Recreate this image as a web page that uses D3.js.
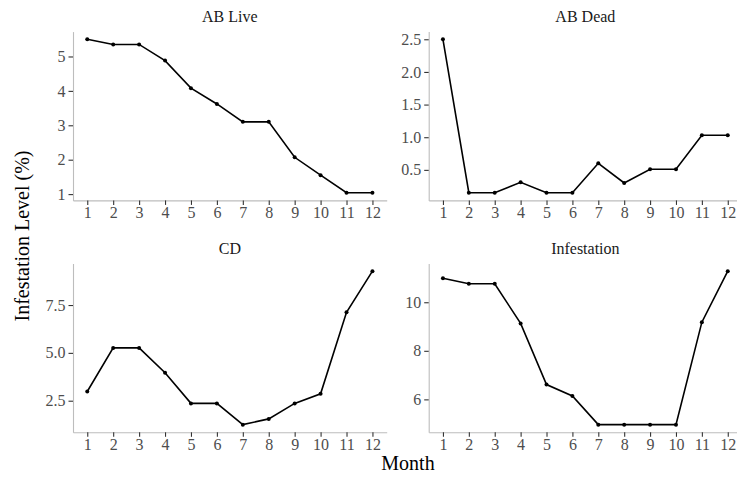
<!DOCTYPE html>
<html>
<head>
<meta charset="utf-8">
<script src="https://cdn.jsdelivr.net/npm/d3@7"></script>
<style>
	body { margin: 0; background: #fff; }
	svg { display: block; font-family: "Liberation Serif", "DejaVu Serif", serif; }
</style>
</head>
<body>
<div id="container"></div>
<script>
	var w = 737
	var h = 482

	// data
	var months = [1, 2, 3, 4, 5, 6, 7, 8, 9, 10, 11, 12]
	var abLive = [5.5, 5.35, 5.35, 4.88, 4.08, 3.62, 3.1, 3.1, 2.07, 1.55, 1.04, 1.04]
	var abDead = [2.5, 0.15, 0.15, 0.31, 0.15, 0.15, 0.6, 0.3, 0.51, 0.51, 1.03, 1.03]
	var cd = [2.98, 5.26, 5.26, 3.96, 2.36, 2.36, 1.25, 1.55, 2.36, 2.86, 7.12, 9.27]
	var infestation = [10.99, 10.76, 10.76, 9.13, 6.61, 6.14, 4.96, 4.96, 4.96, 4.96, 9.18, 11.28]

	var titles = ["AB Live", "AB Dead", "CD", "Infestation"]
	var yTicks = [[1, 2, 3, 4, 5], [0.5, 1.0, 1.5, 2.0, 2.5], [2.5, 5.0, 7.5], [6, 8, 10]]
	var yFormats = ["d", ".1f", ".1f", "d"]

	var cols = [{ left: 73, right: 386.7 }, { left: 428.7, right: 742 }]
	var rows = [{ top: 31.6, bottom: 200.4 }, { top: 263.5, bottom: 432.3 }]

	var svg = d3.select("#container")
		.append("svg")
		.attr("width", w)
		.attr("height", h)

	// ggplot-style 5% expansion
	let expand = ext => {
		let pad = (ext[1] - ext[0]) * 0.05
		return [ext[0] - pad, ext[1] + pad]
	}

	let drawPanel = (values, i) => {
		let col = cols[i % 2]
		let row = rows[Math.floor(i / 2)]

		let xScale = d3.scaleLinear()
			.domain(expand(d3.extent(months)))
			.range([col.left, col.right])

		let yScale = d3.scaleLinear()
			.domain(expand(d3.extent(values)))
			.range([row.bottom, row.top])

		let g = svg.append("g")

		// x axis
		let xAxis = d3.axisBottom(xScale)
			.tickValues(months)
			.tickFormat(d3.format("d"))
			.tickSizeInner(4.5)
			.tickSizeOuter(0)
			.tickPadding(2)

		let gx = g.append("g")
			.attr("transform", "translate(0, " + row.bottom + ")")
			.call(xAxis)

		// y axis
		let yAxis = d3.axisLeft(yScale)
			.tickValues(yTicks[i])
			.tickFormat(d3.format(yFormats[i]))
			.tickSizeInner(4.5)
			.tickSizeOuter(0)
			.tickPadding(3)

		let gy = g.append("g")
			.attr("transform", "translate(" + col.left + ", 0)")
			.call(yAxis)

		;[gx, gy].forEach(a => {
			a.select(".domain").attr("stroke", "#bdbdbd").attr("stroke-width", 1.1)
			a.selectAll(".tick line").attr("stroke", "#333").attr("stroke-width", 1.1)
			a.selectAll(".tick text")
				.attr("fill", "#4d4d4d")
				.style("font-size", "16px")
				.style("font-family", "Liberation Serif, serif")
		})

		// line + points
		let line = d3.line()
			.x((d, j) => xScale(months[j]))
			.y(d => yScale(d))

		g.append("path")
			.datum(values)
			.attr("d", line)
			.attr("fill", "none")
			.attr("stroke", "black")
			.attr("stroke-width", 1.6)

		g.selectAll(".pt")
			.data(values)
			.enter()
			.append("circle").attr("class", "pt")
			.attr("cx", (d, j) => xScale(months[j]))
			.attr("cy", d => yScale(d))
			.attr("r", 2)
			.attr("fill", "black")

		// strip title
		g.append("text")
			.attr("x", (col.left + col.right) / 2)
			.attr("y", row.top - 10)
			.style("text-anchor", "middle")
			.style("font-size", "16px")
			.attr("fill", "#1a1a1a")
			.text(titles[i])
	}

	;[abLive, abDead, cd, infestation].forEach(drawPanel)

	// Text label for the X axis
	svg.append("text")
		.style("text-anchor", "middle")
		.style("font-size", "20px")
		.attr("x", 408)
		.attr("y", 470)
		.text("Month")

	// Text label for the Y axis
	svg.append("text")
		.attr("transform", "rotate(-90)")
		.style("text-anchor", "middle")
		.style("font-size", "20px")
		.attr("x", -236)
		.attr("y", 29)
		.text("Infestation Level (%)")
</script>
</body>
</html>
